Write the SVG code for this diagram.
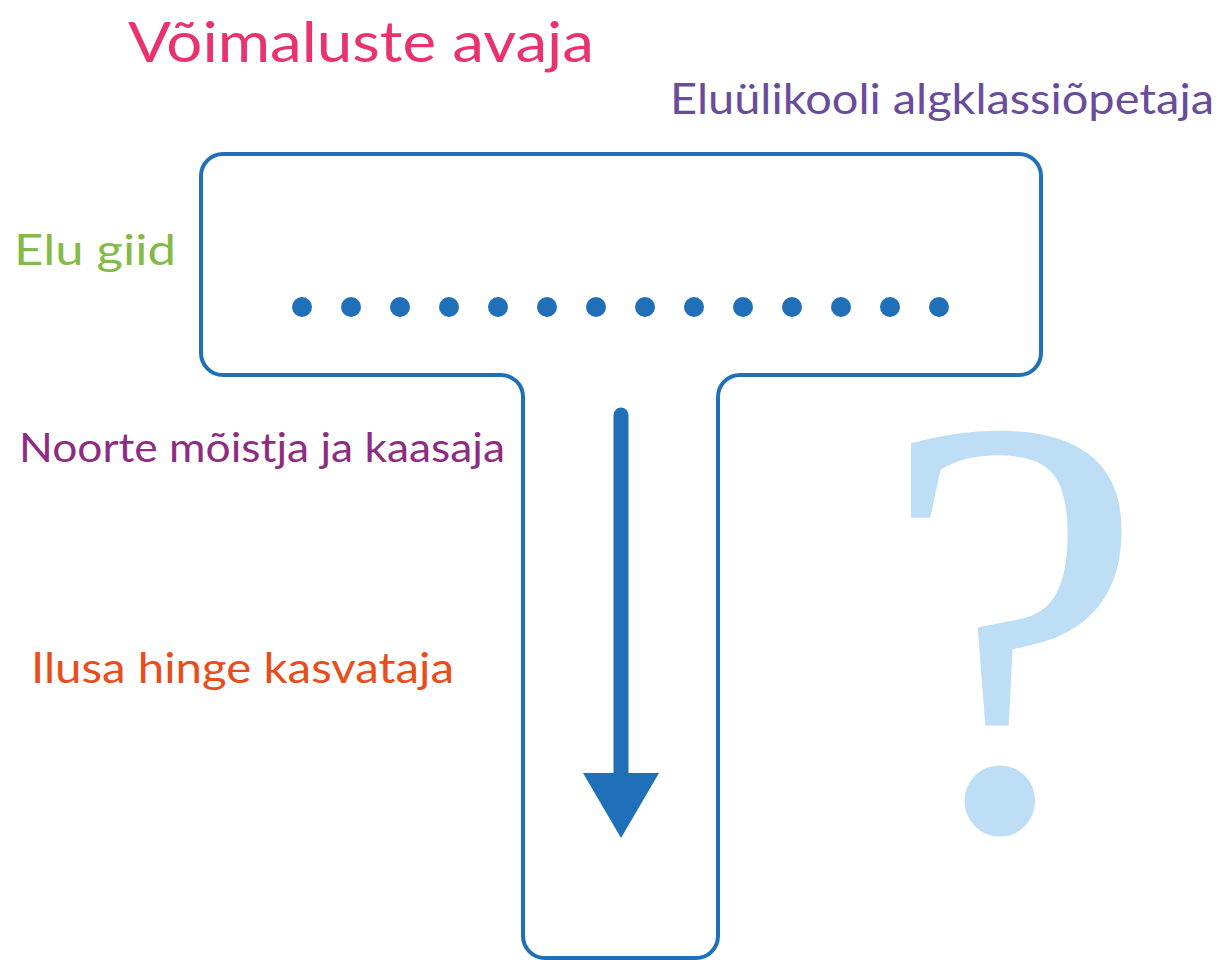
<svg xmlns="http://www.w3.org/2000/svg" width="1219" height="960" viewBox="0 0 1219 960">
<style>
.lbl{font-family:"Lato","Liberation Sans",sans-serif;}
.outline{fill:none;stroke:#1f70b8;stroke-width:4;}
.dot{fill:#1f70b8;}
</style>
<rect width="1219" height="960" fill="#ffffff"/>
<g id="question-mark">
<text x="1013" y="828" text-anchor="middle" font-family="Liberation Serif, serif" font-size="600" fill="#bddef4">?</text>
</g>
<g id="t-shape">
<path class="outline" d="M223,154 H1019 A22,22 0 0 1 1041,176 V353 A22,22 0 0 1 1019,375 H740 A22,22 0 0 0 718,397 V936 A22,22 0 0 1 696,958 H545 A22,22 0 0 1 523,936 V397 A22,22 0 0 0 501,375 H223 A22,22 0 0 1 201,353 V176 A22,22 0 0 1 223,154 Z"/>
</g>
<g id="dots">
<circle class="dot" cx="302" cy="307" r="10"/>
<circle class="dot" cx="351" cy="307" r="10"/>
<circle class="dot" cx="400" cy="307" r="10"/>
<circle class="dot" cx="449" cy="307" r="10"/>
<circle class="dot" cx="498" cy="307" r="10"/>
<circle class="dot" cx="547" cy="307" r="10"/>
<circle class="dot" cx="596" cy="307" r="10"/>
<circle class="dot" cx="645" cy="307" r="10"/>
<circle class="dot" cx="694" cy="307" r="10"/>
<circle class="dot" cx="743" cy="307" r="10"/>
<circle class="dot" cx="792" cy="307" r="10"/>
<circle class="dot" cx="841" cy="307" r="10"/>
<circle class="dot" cx="890" cy="307" r="10"/>
<circle class="dot" cx="939" cy="307" r="10"/>
</g>
<g id="connectors">
<line x1="621" y1="415" x2="621" y2="778" stroke="#1f70b8" stroke-width="15" stroke-linecap="round"/>
<polygon points="583,773 659,773 621,838" fill="#1f70b8"/>
</g>
<g id="label-voimaluste">
<text class="lbl" x="128" y="62" font-size="57" fill="#e8336f" textLength="466" lengthAdjust="spacingAndGlyphs">Võimaluste avaja</text>
</g>
<g id="label-eluulikooli">
<text class="lbl" x="670" y="114" font-size="42" fill="#6a4c9c" textLength="544" lengthAdjust="spacingAndGlyphs">Eluülikooli algklassiõpetaja</text>
</g>
<g id="label-elu-giid">
<text class="lbl" x="14" y="265" font-size="43" fill="#84bb48" textLength="162" lengthAdjust="spacingAndGlyphs">Elu giid</text>
</g>
<g id="label-noorte">
<text class="lbl" x="19" y="462" font-size="40" fill="#8e2b82" textLength="486" lengthAdjust="spacingAndGlyphs">Noorte mõistja ja kaasaja</text>
</g>
<g id="label-ilusa">
<text class="lbl" x="31" y="683" font-size="43" fill="#e84e1b" textLength="423" lengthAdjust="spacingAndGlyphs">Ilusa hinge kasvataja</text>
</g>
</svg>
